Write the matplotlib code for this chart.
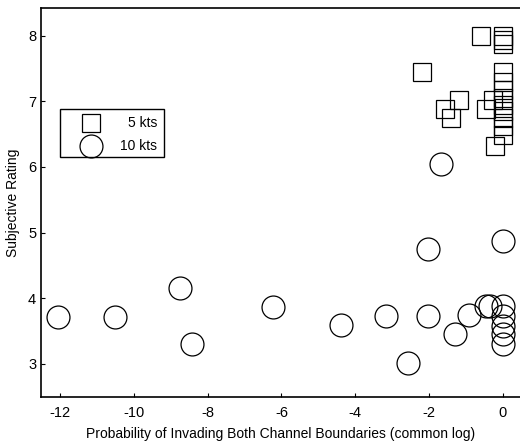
import matplotlib
matplotlib.use("Agg")
import matplotlib.pyplot as plt
from matplotlib.patches import Rectangle

plt.rcParams['font.family'] = ['Liberation Sans', 'DejaVu Sans']
plt.rcParams['axes.unicode_minus'] = False

# 5 kts (squares)
x5 = [-0.6, 0.0, 0.0, 0.0, -2.2, 0.0, 0.0, 0.0, 0.0, 0.0, 0.0, 0.0, 0.0, 0.0,
      -0.27, -0.45, -1.18, -1.56, -1.41, -0.22]
y5 = [8.0, 8.0, 7.93, 7.87, 7.45, 7.44, 7.3, 7.17, 7.05, 6.95, 6.85, 6.75, 6.62, 6.48,
      7.02, 6.88, 7.02, 6.88, 6.74, 6.32]

# 10 kts (circles)
x10 = [-12.06, -10.5, -8.74, -8.42, -6.22, -4.38, -3.16, -2.57, -2.02, -2.02,
       -1.29, -0.91, -0.45, -0.35, 0.0, 0.0, 0.0, 0.0, 0.0, 0.0, -1.68]
y10 = [3.72, 3.72, 4.15, 3.30, 3.86, 3.59, 3.73, 3.01, 3.73, 4.75,
       3.45, 3.74, 3.88, 3.88, 3.88, 3.73, 3.58, 3.45, 3.30, 4.87, 6.05]

xticks = [-12, -10, -8, -6, -4, -2, 0]
yticks = [3, 4, 5, 6, 7, 8]
labels = ['5 kts', '10 kts']

fig = plt.figure(figsize=(5.2, 4.42), dpi=100)
ax = fig.add_axes([41/520, 44.7/442, 1 - 41/520, (397.3 - 8)/442])

ax.plot(x5, y5, linestyle='none', marker='s', ms=13, mfc='none', mec='black', mew=0.9)
ax.plot(x10, y10, linestyle='none', marker='o', ms=16.5, mfc='none', mec='black', mew=0.9)

ax.set_xlim(-12.52, 0.47)
ax.set_ylim(2.49, 8.42)
ax.set_xticks(xticks)
ax.set_yticks(yticks)
ax.tick_params(direction='in', length=3, width=0.8, labelsize=10.5, colors='black')
ax.tick_params(axis='x', pad=6)
ax.spines['right'].set_visible(False)
for s in ['left', 'bottom', 'top']:
    ax.spines[s].set_linewidth(1.2)

ax.set_xlabel('Probability of Invading Both Channel Boundaries (common log)', fontsize=10, labelpad=5)
ax.set_ylabel('Subjective Rating', fontsize=10, labelpad=6)

# legend drawn manually in figure pixel coords
def fx(px):
    return px / 520
def fy(py):
    return 1 - py / 442

fig.patches.append(Rectangle((fx(60), fy(157)), fx(164) - fx(60), fy(109) - fy(157),
                             transform=fig.transFigure, fill=False, ec='black', lw=1.0))
fig.lines.append(plt.Line2D([fx(91)], [fy(123)], transform=fig.transFigure, marker='s',
                            ms=13, mfc='none', mec='black', mew=0.9, linestyle='none'))
fig.lines.append(plt.Line2D([fx(91)], [fy(145.5)], transform=fig.transFigure, marker='o',
                            ms=16.5, mfc='none', mec='black', mew=0.9, linestyle='none'))
fig.text(fx(157), fy(123), labels[0], ha='right', va='center', fontsize=10)
fig.text(fx(157), fy(145.5), labels[1], ha='right', va='center', fontsize=10)

fig.savefig('out.png', dpi=100)
